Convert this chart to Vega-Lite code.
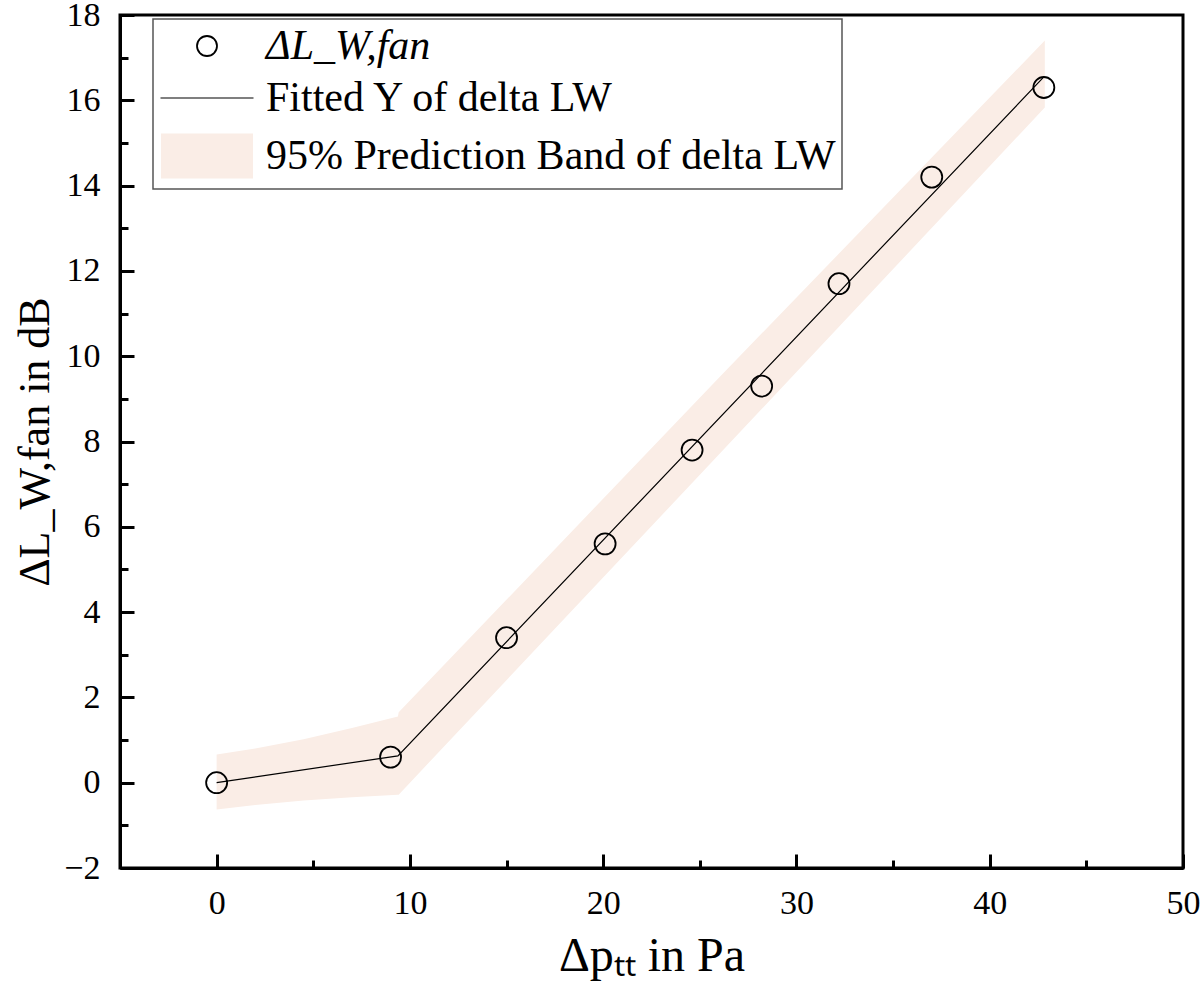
{
  "$schema": "https://vega.github.io/schema/vega-lite/v6.json",
  "width": 1063,
  "height": 853,
  "autosize": {"type": "none"},
  "padding": {"left": 120, "top": 15, "right": 17, "bottom": 130},
  "background": "white",
  "datasets": {
    "band": [
      {"p": 0, "lo": -0.63, "hi": 0.66},
      {"p": 2, "lo": -0.52, "hi": 0.8},
      {"p": 4.5, "lo": -0.42, "hi": 1.02},
      {"p": 7, "lo": -0.34, "hi": 1.28},
      {"p": 9.38, "lo": -0.28, "hi": 1.55},
      {"p": 9.42, "lo": -0.28, "hi": 1.65},
      {"p": 26, "lo": 7.7, "hi": 9.5},
      {"p": 42.85, "lo": 15.83, "hi": 17.4}
    ],
    "fit": [
      {"p": 0, "y": 0},
      {"p": 9.38, "y": 0.63},
      {"p": 42.8, "y": 16.55}
    ],
    "obs": [
      {"p": 0, "y": 0, "series": "ΔL_W,fan"},
      {"p": 9, "y": 0.6, "series": "ΔL_W,fan"},
      {"p": 15, "y": 3.4, "series": "ΔL_W,fan"},
      {"p": 20.1, "y": 5.6, "series": "ΔL_W,fan"},
      {"p": 24.6, "y": 7.8, "series": "ΔL_W,fan"},
      {"p": 28.2, "y": 9.3, "series": "ΔL_W,fan"},
      {"p": 32.2, "y": 11.7, "series": "ΔL_W,fan"},
      {"p": 37, "y": 14.2, "series": "ΔL_W,fan"},
      {"p": 42.8, "y": 16.3, "series": "ΔL_W,fan"}
    ]
  },
  "layer": [
    {
      "data": {"name": "band"},
      "mark": {"type": "area", "color": "#faede6", "opacity": 1},
      "encoding": {
        "x": {
          "field": "p",
          "type": "quantitative",
          "scale": {"domain": [-5, 50], "nice": false, "zero": false},
          "axis": {
            "orient": "bottom",
            "values": [0, 10, 20, 30, 40, 50],
            "tickSize": -14,
            "labelPadding": 32,
            "title": "Δpₜₜ in Pa",
            "titleFontSize": 48,
            "titlePadding": 12
          }
        },
        "y": {
          "field": "hi",
          "type": "quantitative",
          "scale": {"domain": [-2, 18], "nice": false, "zero": false},
          "axis": {
            "orient": "left",
            "values": [-2, 0, 2, 4, 6, 8, 10, 12, 14, 16, 18],
            "tickSize": -14,
            "labelPadding": 34,
            "title": "ΔL_W,fan in dB",
            "titlePadding": 6
          }
        },
        "y2": {"field": "lo"}
      }
    },
    {
      "data": {"name": "fit"},
      "mark": {"type": "line", "color": "black", "strokeWidth": 1.2},
      "encoding": {
        "x": {
          "field": "p",
          "type": "quantitative",
          "axis": {
            "orient": "bottom",
            "values": [5, 15, 25, 35, 45],
            "tickSize": -8,
            "labels": false,
            "domain": false,
            "title": null
          }
        },
        "y": {
          "field": "y",
          "type": "quantitative",
          "axis": {
            "orient": "left",
            "values": [-1, 1, 3, 5, 7, 9, 11, 13, 15, 17],
            "tickSize": -8,
            "labels": false,
            "domain": false,
            "title": null
          }
        }
      }
    },
    {
      "data": {"name": "obs"},
      "mark": {"type": "point", "filled": false, "color": "black", "strokeWidth": 1.8, "size": 441, "opacity": 1},
      "encoding": {
        "x": {"field": "p", "type": "quantitative", "axis": null},
        "y": {"field": "y", "type": "quantitative", "axis": null},
        "shape": {
          "field": "series",
          "type": "nominal",
          "scale": {
            "domain": ["ΔL_W,fan", "Fitted Y of delta LW", "95% Prediction Band of delta LW"],
            "range": [
              "M-1,0A1,1,0,1,1,1,0A1,1,0,1,1,-1,0Z",
              "M-4.65,0L4.65,0",
              "M-4.6,-2.25L4.6,-2.25L4.6,2.25L-4.6,2.25Z"
            ]
          },
          "legend": {
            "title": null,
            "orient": "none",
            "legendX": 33,
            "legendY": 4,
            "padding": 6,
            "strokeColor": "#555555",
            "fillColor": "white",
            "symbolOffset": 27,
            "labelOffset": 38,
            "rowPadding": 10,
            "symbolSize": 400,
            "labelFontSize": 42,
            "labelLimit": 900,
            "encoding": {
              "legend": {"strokeWidth": {"value": 1.5}},
              "symbols": {
                "fill": {"value": {"expr": "datum.value === '95% Prediction Band of delta LW' ? '#faede6' : 'transparent'"}},
                "stroke": {"value": {"expr": "datum.value === '95% Prediction Band of delta LW' ? 'transparent' : 'black'"}},
                "strokeWidth": {"value": {"expr": "datum.value === 'Fitted Y of delta LW' ? 1.2 : 1.8"}},
                "size": {"value": 400},
                "opacity": {"value": 1}
              },
              "labels": {
                "fontStyle": {"value": {"expr": "datum.value === 'ΔL_W,fan' ? 'italic' : 'normal'"}}
              }
            }
          }
        }
      }
    }
  ],
  "resolve": {"axis": {"x": "independent", "y": "independent"}},
  "config": {
    "font": "Liberation Serif",
    "view": {"stroke": "black", "strokeWidth": 3},
    "axis": {
      "grid": false,
      "domainColor": "black",
      "domainWidth": 3,
      "tickColor": "black",
      "tickWidth": 3,
      "labelFont": "Liberation Serif",
      "labelFontSize": 34,
      "labelColor": "black",
      "labelFlush": false,
      "labelOverlap": false,
      "titleFont": "Liberation Serif",
      "titleFontSize": 44,
      "titleFontWeight": "normal",
      "titleColor": "black"
    },
    "legend": {
      "labelFont": "Liberation Serif",
      "labelColor": "black"
    }
  }
}
